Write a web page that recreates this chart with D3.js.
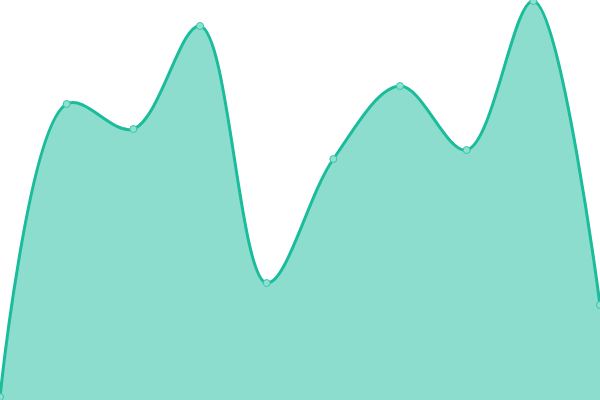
<!DOCTYPE html>
<html>
<head>
<meta charset="utf-8">
<script src="https://cdn.jsdelivr.net/npm/d3@7"></script>
<style>
html,body{margin:0;padding:0;background:#fff;}
svg{display:block;}
</style>
</head>
<body>
<script>
const categories = [0, 1, 2, 3, 4, 5, 6, 7, 8, 9];
const values = [3, 296, 271, 374, 117, 241, 314, 250, 399, 95];

const W = 600, H = 400;
const svg = d3.select("body").append("svg").attr("width", W).attr("height", H);

const x = d3.scaleLinear().domain([0, categories.length - 1]).range([0, W]);
const y = d3.scaleLinear().domain([0, 400]).range([H, 0]);

const data = categories.map((c, i) => ({c, v: values[i]}));

const area = d3.area()
  .x(d => x(d.c)).y0(H).y1(d => y(d.v))
  .curve(d3.curveCatmullRom);
const line = d3.line()
  .x(d => x(d.c)).y(d => y(d.v))
  .curve(d3.curveCatmullRom);

svg.append("path").datum(data).attr("d", area)
  .attr("fill", "#1abc9c").attr("fill-opacity", 0.5);
svg.append("path").datum(data).attr("d", line)
  .attr("fill", "none").attr("stroke", "#1abc9c").attr("stroke-width", 3);
svg.selectAll("circle").data(data).join("circle")
  .attr("cx", d => x(d.c)).attr("cy", d => y(d.v)).attr("r", 3.5)
  .attr("fill", "#8ee0cf").attr("stroke", "#3cc4a8").attr("stroke-width", 1);
</script>
</body>
</html>
